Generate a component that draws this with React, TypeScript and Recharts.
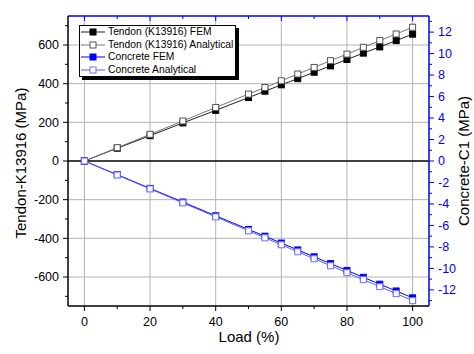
import { ComposedChart, Legend, Line, ReferenceLine, XAxis, YAxis } from "recharts";

// Load steps (%) and the four measured/computed stress series
const loadPct = [0, 10, 20, 30, 40, 50, 55, 60, 65, 70, 75, 80, 85, 90, 95, 100];
const tendonFem = [0, 66, 131, 197, 262, 328, 361, 394, 426, 459, 492, 525, 558, 590, 623, 656];
const tendonAnalytical = [0, 69, 138, 207, 277, 346, 380, 415, 450, 484, 519, 553, 588, 623, 657, 692];
const concreteFem = [0, -1.27, -2.55, -3.82, -5.1, -6.37, -7.0, -7.64, -8.28, -8.92, -9.55, -10.19, -10.83, -11.47, -12.1, -12.74];
const concreteAnalytical = [0, -1.3, -2.6, -3.9, -5.2, -6.5, -7.15, -7.8, -8.45, -9.1, -9.75, -10.4, -11.05, -11.7, -12.35, -13.0];

const seriesNames = [
  "Tendon (K13916) FEM",
  "Tendon (K13916) Analytical",
  "Concrete FEM",
  "Concrete Analytical",
];

// tick values (minor + major); majors get labels and grid lines
const loadTicks = [0, 10, 20, 30, 40, 50, 60, 70, 80, 90, 100];
const loadMajor = [0, 20, 40, 60, 80, 100];
const tendonTicks = [-700, -600, -500, -400, -300, -200, -100, 0, 100, 200, 300, 400, 500, 600, 700];
const tendonMajor = [-600, -400, -200, 200, 400, 600];
const concreteTicks = [-13, -12, -11, -10, -9, -8, -7, -6, -5, -4, -3, -2, -1, 0, 1, 2, 3, 4, 5, 6, 7, 8, 9, 10, 11, 12, 13];

const rows = loadPct.map((load, i) => ({
  load,
  tendonFem: tendonFem[i],
  tendonAnalytical: tendonAnalytical[i],
  concreteFem: concreteFem[i],
  concreteAnalytical: concreteAnalytical[i],
}));

const BLUE = "#0000ff";
const FONT = "'Liberation Sans', Arial, sans-serif";

const styles = [
  { line: "#222", fill: "#000", stroke: "#000" },
  { line: "#777", fill: "#fff", stroke: "#555" },
  { line: BLUE, fill: BLUE, stroke: BLUE },
  { line: "#5a5aff", fill: "#fff", stroke: "#7070ff" },
];

const square = (fill: string, stroke: string) => (p: any) => (
  <rect key={p.index} x={p.cx - 3} y={p.cy - 3} width={6} height={6} fill={fill} stroke={stroke} strokeWidth={1} />
);

function LeftTick({ x, y, payload }: any) {
  const major = payload.value % 200 === 0;
  return (
    <g>
      <line x1={x} x2={x - (major ? 5 : 3)} y1={y} y2={y} stroke="#000" />
      {major && (
        <text x={x - 9} y={y} dy="0.35em" textAnchor="end" fontSize={12.5} fill="#000">
          {payload.value}
        </text>
      )}
    </g>
  );
}

function RightTick({ x, y, payload }: any) {
  const major = payload.value % 2 === 0;
  return (
    <g>
      <line x1={x} x2={x + (major ? 5 : 3)} y1={y} y2={y} stroke={BLUE} />
      {major && (
        <text x={x + 9} y={y} dy="0.35em" textAnchor="start" fontSize={12.5} fill={BLUE}>
          {payload.value}
        </text>
      )}
    </g>
  );
}

function BottomTick({ x, y, payload }: any) {
  const major = payload.value % 20 === 0;
  return (
    <g>
      <line x1={x} x2={x} y1={y} y2={y + (major ? 5 : 3)} stroke="#000" />
      {major && (
        <text x={x} y={y + 16} dy="0.35em" textAnchor="middle" fontSize={12.5} fill="#000">
          {payload.value}
        </text>
      )}
    </g>
  );
}

function TopTick({ x, y, payload }: any) {
  const major = payload.value % 20 === 0;
  return <line x1={x} x2={x} y1={y} y2={y + (major ? 5 : 3)} stroke={BLUE} />;
}

function LegendBox() {
  return (
    <div
      style={{
        width: 157,
        height: 52,
        boxSizing: "border-box",
        border: "1px solid #000",
        background: "#fff",
        boxShadow: "3px 3px 0 #000",
        padding: "0 0 0 1px",
        fontFamily: FONT,
        fontSize: 10.3,
        lineHeight: "12.5px",
        color: "#000",
      }}
    >
      {seriesNames.map((name, i) => (
        <div key={name} style={{ display: "flex", alignItems: "center", height: 12.5, whiteSpace: "nowrap" }}>
          <svg width={24} height={12} style={{ flex: "none" }}>
            <line x1={0} x2={24} y1={6} y2={6} stroke={styles[i].line} />
            <rect x={9} y={3} width={6} height={6} fill={styles[i].fill} stroke={styles[i].stroke} />
          </svg>
          <span style={{ marginLeft: 3 }}>{name}</span>
        </div>
      ))}
    </div>
  );
}

const title = (text: string, x: number, y: number, rotate: boolean, color = "#000") => () => (
  <text
    x={x}
    y={y}
    transform={rotate ? `rotate(-90 ${x} ${y})` : undefined}
    textAnchor="middle"
    dy="0.35em"
    fontSize={15}
    fill={color}
  >
    {text}
  </text>
);

export default function App() {
  const keys = ["tendonFem", "tendonAnalytical", "concreteFem", "concreteAnalytical"];
  return (
    <div style={{ position: "absolute", left: 0, top: 0, width: 474, height: 354, background: "#fff" }}>
      <ComposedChart
        width={474}
        height={354}
        data={rows}
        margin={{ top: 0, right: 0, bottom: 0, left: 0 }}
        style={{ fontFamily: FONT }}
      >
        <XAxis
          xAxisId="bottom"
          dataKey="load"
          type="number"
          domain={[-5, 105]}
          ticks={loadTicks}
          interval={0}
          height={48}
          tickSize={0}
          tickMargin={0}
          tickLine={false}
          axisLine={{ stroke: "#000", strokeWidth: 1.5 }}
          tick={<BottomTick />}
          label={{ content: title("Load (%)", 249, 337, false) }}
        />
        <XAxis
          xAxisId="top"
          orientation="top"
          dataKey="load"
          type="number"
          domain={[-5, 105]}
          ticks={loadTicks}
          interval={0}
          height={16}
          tickSize={0}
          tickMargin={0}
          tickLine={false}
          axisLine={{ stroke: BLUE, strokeWidth: 1.5 }}
          tick={<TopTick />}
        />
        <YAxis
          yAxisId="left"
          type="number"
          domain={[-750, 750]}
          ticks={tendonTicks}
          interval={0}
          width={68}
          tickSize={0}
          tickMargin={0}
          tickLine={false}
          allowDataOverflow
          axisLine={{ stroke: "#000", strokeWidth: 1.5 }}
          tick={<LeftTick />}
          label={{ content: title("Tendon-K13916 (MPa)", 21, 163, true) }}
        />
        <YAxis
          yAxisId="right"
          orientation="right"
          type="number"
          domain={[-13.5, 13.5]}
          ticks={concreteTicks}
          interval={0}
          width={45}
          tickSize={0}
          tickMargin={0}
          tickLine={false}
          allowDataOverflow
          axisLine={{ stroke: BLUE, strokeWidth: 1.5 }}
          tick={<RightTick />}
          label={{ content: title("Concrete-C1 (MPa)", 464, 161, true) }}
        />

        {loadMajor.map((v) => (
          <ReferenceLine key={`gx${v}`} x={v} xAxisId="bottom" yAxisId="left" stroke="#b4b4b4" strokeWidth={1} />
        ))}
        {tendonMajor.map((v) => (
          <ReferenceLine key={`gy${v}`} y={v} xAxisId="bottom" yAxisId="left" stroke="#b4b4b4" strokeWidth={1} />
        ))}
        <ReferenceLine y={0} xAxisId="bottom" yAxisId="left" stroke="#000" strokeWidth={1.5} />

        {keys.map((k, i) => (
          <Line
            key={k}
            xAxisId="bottom"
            yAxisId={i < 2 ? "left" : "right"}
            dataKey={k}
            name={seriesNames[i]}
            type="linear"
            stroke={styles[i].line}
            strokeWidth={1}
            dot={square(styles[i].fill, styles[i].stroke)}
            activeDot={false}
            isAnimationActive={false}
          />
        ))}

        <Legend
          layout="vertical"
          align="center"
          verticalAlign="middle"
          wrapperStyle={{ left: 79, top: 25, width: 157, height: 52 }}
          content={() => <LegendBox />}
        />
      </ComposedChart>
    </div>
  );
}
